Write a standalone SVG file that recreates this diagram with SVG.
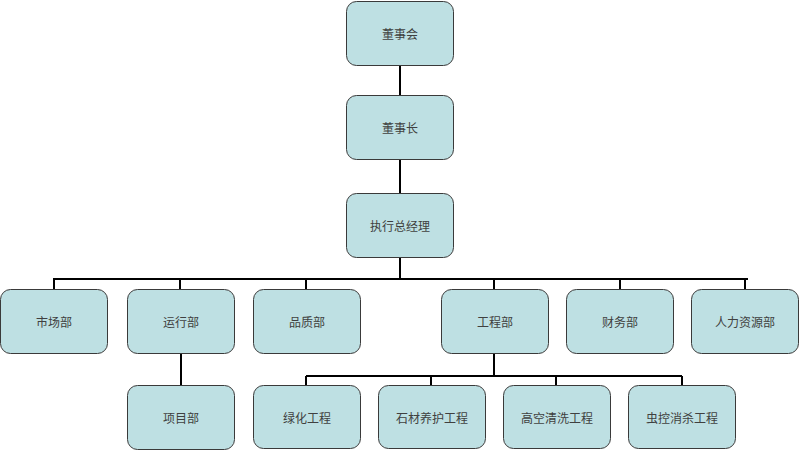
<svg xmlns="http://www.w3.org/2000/svg" width="800" height="450" viewBox="0 0 800 450">
<style>
.box{fill:#bee0e3;stroke:#3a3a3a;stroke-width:1}
.t{font-family:"Noto Sans CJK SC",sans-serif;font-size:12px;fill:#404040;text-anchor:middle;dominant-baseline:central}
.c{stroke:#000;stroke-width:2;fill:none}
</style>
<rect width="800" height="450" fill="#fff"/>
<g id="connectors">
<path class="c" d="M400 65V95M400 160V193M400 257V279M53 279H748M54 279V289M180 279V289M306 279V289M494 279V289M620 279V289M745 279V289M181 353V385M494 353V376M306 376H682M306 376V385M431 376V385M556 376V385M682 376V385"/>
</g>
<g id="n1"><rect class="box" x="346.5" y="1.5" width="107" height="64" rx="10"/><text class="t" x="400" y="33">董事会</text></g>
<g id="n2"><rect class="box" x="346.5" y="95.5" width="107" height="64" rx="10"/><text class="t" x="400" y="127">董事长</text></g>
<g id="n3"><rect class="box" x="346.5" y="193.5" width="107" height="64" rx="10"/><text class="t" x="400" y="225">执行总经理</text></g>
<g id="n4"><rect class="box" x="0.5" y="289.5" width="107" height="64" rx="10"/><text class="t" x="54" y="321">市场部</text></g>
<g id="n5"><rect class="box" x="127.5" y="289.5" width="107" height="64" rx="10"/><text class="t" x="181" y="321">运行部</text></g>
<g id="n6"><rect class="box" x="253.5" y="289.5" width="107" height="64" rx="10"/><text class="t" x="307" y="321">品质部</text></g>
<g id="n7"><rect class="box" x="441.5" y="289.5" width="107" height="64" rx="10"/><text class="t" x="495" y="321">工程部</text></g>
<g id="n8"><rect class="box" x="566.5" y="289.5" width="107" height="64" rx="10"/><text class="t" x="620" y="321">财务部</text></g>
<g id="n9"><rect class="box" x="691.5" y="289.5" width="107" height="64" rx="10"/><text class="t" x="745" y="321">人力资源部</text></g>
<g id="n10"><rect class="box" x="127.5" y="385.5" width="107" height="64" rx="10"/><text class="t" x="181" y="417">项目部</text></g>
<g id="n11"><rect class="box" x="253.5" y="385.5" width="107" height="63" rx="10"/><text class="t" x="307" y="417">绿化工程</text></g>
<g id="n12"><rect class="box" x="378.5" y="385.5" width="107" height="63" rx="10"/><text class="t" x="432" y="417">石材养护工程</text></g>
<g id="n13"><rect class="box" x="503.5" y="385.5" width="107" height="63" rx="10"/><text class="t" x="557" y="417">高空清洗工程</text></g>
<g id="n14"><rect class="box" x="628.5" y="385.5" width="107" height="63" rx="10"/><text class="t" x="682" y="417">虫控消杀工程</text></g>
</svg>
